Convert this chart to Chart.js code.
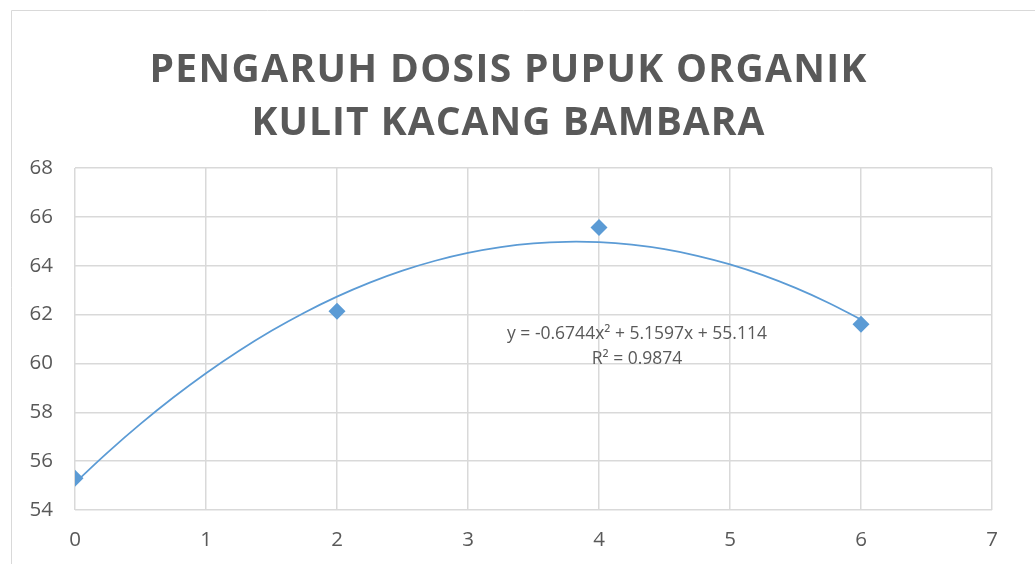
<!DOCTYPE html>
<html>
<head>
<meta charset="utf-8">
<script src="https://cdn.jsdelivr.net/npm/chart.js@4"></script>
<style>
  html, body { margin: 0; padding: 0; background: #fff; }
  #wrap { position: relative; width: 1035px; height: 564px; }
</style>
</head>
<body>
<div id="wrap"><canvas id="chart" width="1035" height="564"></canvas></div>
<script>
// ===================== DATA =====================
const dosis = [0, 2, 4, 6];
const hasil = [55.3, 62.14, 65.56, 61.6];
// polynomial trendline coefficients as printed on the chart: a*x^2 + b*x + c
const trendCoef = [-0.6744, 5.1597, 55.114];
const trendSteps = [0, 0.25, 0.5, 0.75, 1, 1.25, 1.5, 1.75, 2, 2.25, 2.5, 2.75, 3, 3.25, 3.5, 3.75, 4, 4.25, 4.5, 4.75, 5, 5.25, 5.5, 5.75, 6];
const titleLines = ['PENGARUH DOSIS PUPUK ORGANIK', 'KULIT KACANG BAMBARA'];
const eqLines = ['y = -0.6744x² + 5.1597x + 55.114', 'R² = 0.9874'];

const BLUE = '#5B9BD5';
const TEXT = '#595959';
const GRID = '#D9D9D9';

// ===================== PLUGINS =====================
const frame = {
  id: 'frame',
  beforeDraw(chart) {
    const ctx = chart.ctx;
    ctx.save();
    ctx.strokeStyle = GRID;
    ctx.lineWidth = 1;
    ctx.beginPath();
    ctx.moveTo(11.5, 600);
    ctx.lineTo(11.5, 10.5);
    ctx.lineTo(1100, 10.5);
    ctx.stroke();
    ctx.restore();
  }
};

const titleText = {
  id: 'titleText',
  afterDraw(chart) {
    const ctx = chart.ctx;
    const widths = [717, 513];
    const baselines = [82, 135];
    ctx.save();
    ctx.fillStyle = TEXT;
    ctx.textBaseline = 'alphabetic';
    ctx.textAlign = 'left';
    titleLines.forEach((line, i) => {
      ctx.font = 'bold 39px "Open Sans"';
      ctx.letterSpacing = '0px';
      const w = ctx.measureText(line).width;
      const sp = (widths[i] - w) / (line.length - 1);
      ctx.letterSpacing = sp + 'px';
      ctx.fillText(line, 508 - widths[i] / 2, baselines[i]);
    });
    ctx.letterSpacing = '0px';
    ctx.restore();
  }
};

const equation = {
  id: 'equation',
  afterDatasetsDraw(chart) {
    const ctx = chart.ctx;
    ctx.save();
    ctx.fillStyle = TEXT;
    ctx.font = '17.5px "Open Sans"';
    ctx.textAlign = 'center';
    ctx.textBaseline = 'middle';
    ctx.fillText(eqLines[0], 637, 334);
    ctx.fillText(eqLines[1], 637, 359);
    ctx.restore();
  }
};

// ===================== CHART =====================
const trendData = trendSteps.map(x => ({ x: x, y: trendCoef[0] * x * x + trendCoef[1] * x + trendCoef[2] }));

new Chart(document.getElementById('chart'), {
  type: 'scatter',
  data: {
    datasets: [
      {
        label: 'Trendline',
        data: trendData,
        showLine: true,
        borderColor: BLUE,
        borderWidth: 1.75,
        pointRadius: 0,
        tension: 0.4,
        order: 2
      },
      {
        label: 'Hasil',
        data: dosis.map((x, i) => ({ x: x, y: hasil[i] })),
        pointStyle: 'rectRot',
        pointRadius: 8.5,
        backgroundColor: BLUE,
        borderColor: BLUE,
        borderWidth: 0,
        order: 1
      }
    ]
  },
  options: {
    responsive: false,
    animation: false,
    layout: { padding: { top: 168, right: 43, bottom: 0, left: 0 } },
    plugins: { legend: { display: false }, tooltip: { enabled: false }, title: { display: false } },
    scales: {
      x: {
        type: 'linear',
        min: 0, max: 7,
        ticks: { stepSize: 1, color: TEXT, font: { family: 'Open Sans', size: 20.5 }, padding: 18 },
        grid: { color: GRID, lineWidth: 1.5, drawTicks: false },
        border: { display: false },
        afterFit(s) { s.height = 54; }
      },
      y: {
        min: 54, max: 68,
        ticks: { stepSize: 2, color: TEXT, font: { family: 'Open Sans', size: 20.5 }, padding: 22 },
        grid: { color: GRID, lineWidth: 1.5, drawTicks: false },
        border: { display: false },
        afterFit(s) { s.width = 75; }
      }
    }
  },
  plugins: [frame, equation, titleText]
});
</script>
</body>
</html>
